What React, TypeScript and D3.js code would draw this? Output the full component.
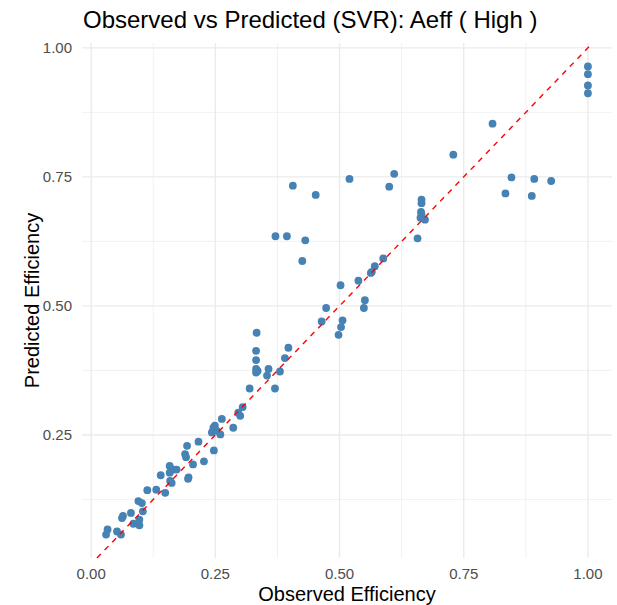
import React from 'react';
import * as d3 from 'd3';

// values
const observed = [
  0.305, 0.296, 0.3, 0.263, 0.286, 0.246, 0.243, 0.253, 0.26, 0.249,
  0.216, 0.193, 0.189, 0.191, 0.247, 0.227, 0.205, 0.158, 0.166, 0.172,
  0.158, 0.159, 0.162, 0.14, 0.196, 0.195, 0.113, 0.131, 0.149, 0.095,
  0.102, 0.104, 0.097, 0.08, 0.064, 0.062, 0.085, 0.095, 0.097, 0.033,
  0.03, 0.052, 0.06,
  0.473, 0.464, 0.506, 0.503, 0.498, 0.549, 0.551, 0.333, 0.332, 0.332,
  0.332, 0.335, 0.332, 0.357, 0.354, 0.397, 0.39, 0.38, 0.37, 0.319,
  0.406, 0.452, 0.52, 0.6, 0.61, 0.371, 0.394, 0.431, 0.425,
  0.665, 0.665, 0.664, 0.665, 0.663, 0.672, 0.657, 0.588, 0.571, 0.565, 0.563, 0.538, 0.502,
  0.729, 0.846, 0.892, 0.926, 0.834, 0.887, 0.808,
  1.0, 1.0, 1.0, 1.0,
];

const predicted = [
  0.304, 0.293, 0.287, 0.281, 0.264, 0.264, 0.255, 0.258, 0.251, 0.268,
  0.237, 0.229, 0.213, 0.207, 0.22, 0.199, 0.193, 0.19, 0.183, 0.183,
  0.177, 0.161, 0.157, 0.172, 0.168, 0.165, 0.143, 0.144, 0.138, 0.122,
  0.118, 0.102, 0.086, 0.099, 0.093, 0.089, 0.078, 0.078, 0.075, 0.067,
  0.057, 0.063, 0.057,
  0.496, 0.47, 0.472, 0.459, 0.444, 0.496, 0.511, 0.448, 0.413, 0.395,
  0.378, 0.374, 0.371, 0.378, 0.365, 0.419, 0.399, 0.373, 0.34, 0.34,
  0.733, 0.715, 0.746, 0.731, 0.756, 0.635, 0.635, 0.627, 0.587,
  0.706, 0.699, 0.682, 0.678, 0.671, 0.667, 0.631, 0.592, 0.577, 0.566, 0.564, 0.549, 0.54,
  0.793, 0.749, 0.746, 0.742, 0.718, 0.713, 0.853,
  0.964, 0.949, 0.927, 0.912,
];

const xTicks = [0, 0.25, 0.5, 0.75, 1];
const yTicks = [0.25, 0.5, 0.75, 1];
const minorTicks = [0.125, 0.375, 0.625, 0.875];

const title = 'Observed vs Predicted (SVR): Aeff ( High )';
const xTitle = 'Observed Efficiency';
const yTitle = 'Predicted Efficiency';

const W = 617;
const H = 605;
const panel = { left: 82, right: 612, top: 43, bottom: 558 };
const font = '"Liberation Sans", Arial, sans-serif';
const grid = '#EBEBEB';

// ggplot-style 5% expansion
function expand([lo, hi]: [number, number]): [number, number] {
  const pad = (hi - lo) * 0.05;
  return [lo - pad, hi + pad];
}

export default function App() {
  const x = d3
    .scaleLinear()
    .domain(expand(d3.extent(observed) as [number, number]))
    .range([panel.left, panel.right]);
  const y = d3
    .scaleLinear()
    .domain(expand(d3.extent(predicted) as [number, number]))
    .range([panel.bottom, panel.top]);

  const fmt = d3.format('.2f');
  const pts = observed.map((o, i) => [o, predicted[i]] as [number, number]);

  // y = x reference line, clipped to the panel
  const lo = Math.max(x.domain()[0], y.domain()[0]);
  const hi = Math.min(x.domain()[1], y.domain()[1]);
  const line = d3.line<number>().x(d => x(d)).y(d => y(d));

  const xMinor = minorTicks.filter(t => t > x.domain()[0] && t < x.domain()[1]);
  const yMinor = minorTicks.filter(t => t > y.domain()[0] && t < y.domain()[1]);

  return (
    <svg width={W} height={H} style={{ position: 'absolute', left: 0, top: 0, background: '#fff' }} fontFamily={font}>
      <g>
        {xMinor.map(t => (
          <line key={'xm' + t} x1={x(t)} x2={x(t)} y1={panel.top} y2={panel.bottom} stroke={grid} strokeWidth={0.7} />
        ))}
        {yMinor.map(t => (
          <line key={'ym' + t} x1={panel.left} x2={panel.right} y1={y(t)} y2={y(t)} stroke={grid} strokeWidth={0.7} />
        ))}
        {xTicks.map(t => (
          <line key={'x' + t} x1={x(t)} x2={x(t)} y1={panel.top} y2={panel.bottom} stroke={grid} strokeWidth={1.4} />
        ))}
        {yTicks.map(t => (
          <line key={'y' + t} x1={panel.left} x2={panel.right} y1={y(t)} y2={y(t)} stroke={grid} strokeWidth={1.4} />
        ))}
      </g>

      <g>
        {pts.map(([o, p], i) => (
          <circle key={i} cx={x(o)} cy={y(p)} r={3.9} fill="steelblue" />
        ))}
      </g>

      <path d={line([lo, hi]) || ''} fill="none" stroke="red" strokeWidth={1.4} strokeDasharray="5.5,5.5" />

      <g fontSize={15} fill="#4D4D4D">
        {xTicks.map(t => (
          <text key={'xl' + t} x={x(t)} y={579} textAnchor="middle">
            {fmt(t)}
          </text>
        ))}
        {yTicks.map(t => (
          <text key={'yl' + t} x={72} y={y(t) + 5.4} textAnchor="end">
            {fmt(t)}
          </text>
        ))}
      </g>

      <text x={(panel.left + panel.right) / 2} y={601} textAnchor="middle" fontSize={20} fill="#000">
        {xTitle}
      </text>
      <text
        transform={`translate(39,${(panel.top + panel.bottom) / 2}) rotate(-90)`}
        textAnchor="middle"
        fontSize={20}
        fill="#000"
      >
        {yTitle}
      </text>
      <text x={83} y={28} fontSize={24} fill="#000">
        {title}
      </text>
    </svg>
  );
}
